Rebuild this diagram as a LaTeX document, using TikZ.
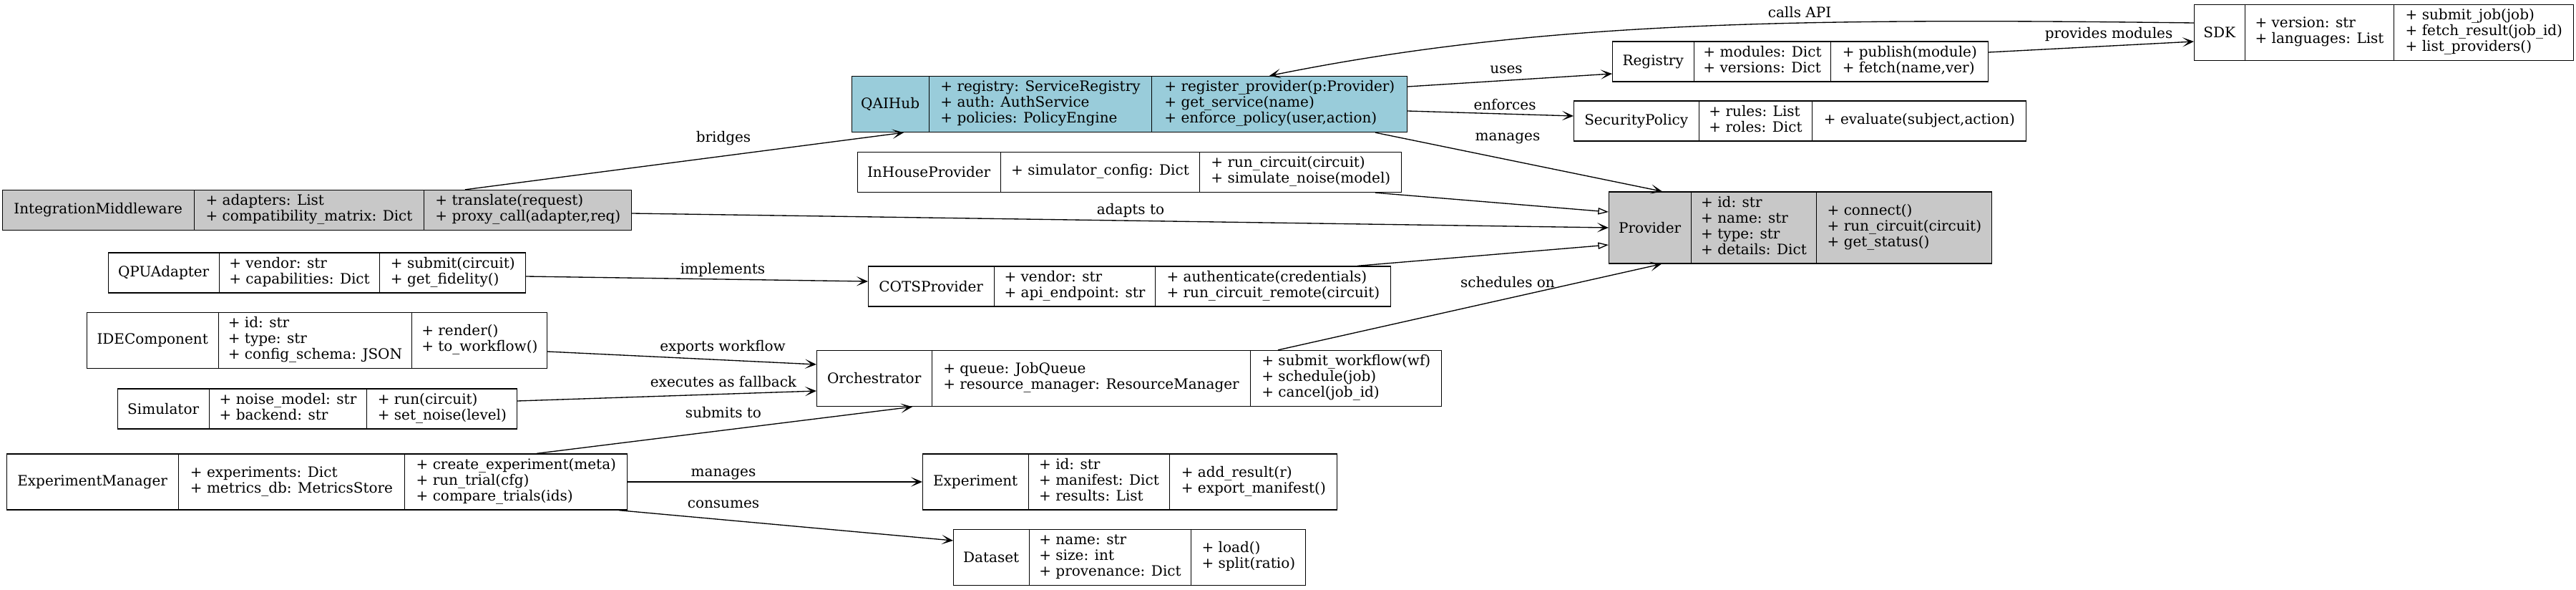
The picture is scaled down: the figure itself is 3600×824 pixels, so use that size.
\documentclass[tikz,border=0pt]{standalone}
\usepackage{fontspec}
\setmainfont{DejaVu Serif}
\usetikzlibrary{shapes.multipart,arrows.meta,calc}
\newlength{\pxu}
\setlength{\pxu}{0.75pt}
\newcommand{\fld}[2]{\makebox[#1\pxu]{#2}}
\newcommand{\rows}[1]{\begin{tabular}{@{}l@{}}#1\end{tabular}}
\definecolor{hubblue}{RGB}{153,204,218}
\definecolor{provgray}{RGB}{200,200,200}
\begin{document}
\begin{tikzpicture}[x=0.75pt, y=-0.75pt,
	every node/.style={font=\fontsize{15}{16.5}\selectfont},
	umlclass/.style={draw, line width=1pt, rectangle split, rectangle split horizontal, rectangle split parts=3, inner xsep=0pt, inner ysep=4.5pt},
	link/.style={line width=1pt, -{Stealth[length=12pt, width=10pt, inset=6.5pt]}},
	isa/.style={line width=1pt, -{Triangle[open, length=11pt, width=7pt, fill=white]}},
	lbl/.style={inner sep=1pt}]
		\useasboundingbox (0,0) rectangle (3600,824);
		\node[umlclass, fill=hubblue] (hub) at (1578.5,145.5) {\fld{107}{QAIHub}\nodepart{two}\fld{310}{\rows{+ registry: ServiceRegistry\\+ auth: AuthService\\+ policies: PolicyEngine}}\nodepart{three}\fld{356}{\rows{+ register\_provider(p:Provider)\\+ get\_service(name)\\+ enforce\_policy(user,action)}}};
		\node[umlclass] (registry) at (2516,86) {\fld{113}{Registry}\nodepart{two}\fld{190}{\rows{+ modules: Dict\\+ versions: Dict}}\nodepart{three}\fld{219}{\rows{+ publish(module)\\+ fetch(name,ver)}}};
		\node[umlclass] (sdk) at (3331.5,45.5) {\fld{70}{SDK}\nodepart{two}\fld{207}{\rows{+ version: str\\+ languages: List}}\nodepart{three}\fld{250}{\rows{+ submit\_job(job)\\+ fetch\_result(job\_id)\\+ list\_providers()}}};
		\node[umlclass] (secpolicy) at (2515.5,169) {\fld{174}{SecurityPolicy}\nodepart{two}\fld{157}{\rows{+ rules: List\\+ roles: Dict}}\nodepart{three}\fld{298}{\rows{+ evaluate(subject,action)}}};
		\node[umlclass] (inhouse) at (1578.5,240.5) {\fld{199}{InHouseProvider}\nodepart{two}\fld{277}{\rows{+ simulator\_config: Dict}}\nodepart{three}\fld{281}{\rows{+ run\_circuit(circuit)\\+ simulate\_noise(model)}}};
		\node[umlclass, fill=provgray] (provider) at (2516,318) {\fld{114}{Provider}\nodepart{two}\fld{174}{\rows{+ id: str\\+ name: str\\+ type: str\\+ details: Dict}}\nodepart{three}\fld{244}{\rows{+ connect()\\+ run\_circuit(circuit)\\+ get\_status()}}};
		\node[umlclass, fill=provgray] (middleware) at (443,293.5) {\fld{267}{IntegrationMiddleware}\nodepart{two}\fld{320}{\rows{+ adapters: List\\+ compatibility\_matrix: Dict}}\nodepart{three}\fld{289}{\rows{+ translate(request)\\+ proxy\_call(adapter,req)}}};
		\node[umlclass] (qpu) at (443,381) {\fld{154}{QPUAdapter}\nodepart{two}\fld{223}{\rows{+ vendor: str\\+ capabilities: Dict}}\nodepart{three}\fld{203}{\rows{+ submit(circuit)\\+ get\_fidelity()}}};
		\node[umlclass] (cots) at (1578.5,400) {\fld{175}{COTSProvider}\nodepart{two}\fld{224}{\rows{+ vendor: str\\+ api\_endpoint: str}}\nodepart{three}\fld{328}{\rows{+ authenticate(credentials)\\+ run\_circuit\_remote(circuit)}}};
		\node[umlclass] (ide) at (443,475.5) {\fld{183}{IDEComponent}\nodepart{two}\fld{269}{\rows{+ id: str\\+ type: str\\+ config\_schema: JSON}}\nodepart{three}\fld{188}{\rows{+ render()\\+ to\_workflow()}}};
		\node[umlclass] (orch) at (1578,528.5) {\fld{160}{Orchestrator}\nodepart{two}\fld{444}{\rows{+ queue: JobQueue\\+ resource\_manager: ResourceManager}}\nodepart{three}\fld{266}{\rows{+ submit\_workflow(wf)\\+ schedule(job)\\+ cancel(job\_id)}}};
		\node[umlclass] (simulator) at (443.5,571) {\fld{127}{Simulator}\nodepart{two}\fld{219}{\rows{+ noise\_model: str\\+ backend: str}}\nodepart{three}\fld{209}{\rows{+ run(circuit)\\+ set\_noise(level)}}};
		\node[umlclass] (expmgr) at (443,673) {\fld{239}{ExperimentManager}\nodepart{two}\fld{315}{\rows{+ experiments: Dict\\+ metrics\_db: MetricsStore}}\nodepart{three}\fld{310}{\rows{+ create\_experiment(meta)\\+ run\_trial(cfg)\\+ compare\_trials(ids)}}};
		\node[umlclass] (experiment) at (1579,673) {\fld{147}{Experiment}\nodepart{two}\fld{196}{\rows{+ id: str\\+ manifest: Dict\\+ results: List}}\nodepart{three}\fld{233}{\rows{+ add\_result(r)\\+ export\_manifest()}}};
		\node[umlclass] (dataset) at (1578.5,778.5) {\fld{105}{Dataset}\nodepart{two}\fld{225}{\rows{+ name: str\\+ size: int\\+ provenance: Dict}}\nodepart{three}\fld{159}{\rows{+ load()\\+ split(ratio)}}};
		\draw[link] ($(middleware.north)+(207,0)$) -- ($(hub.south)+(-315.5,0)$) node[lbl] (lbridges) at (1011,193) {bridges};
		\draw[link] ($(middleware.east)+(0,4.5)$) -- (provider.west) node[lbl] (ladapts) at (1580,294) {adapts to};
		\draw[link] ($(hub.east)+(0,-24.5)$) -- ($(registry.west)+(0,17)$) node[lbl] (luses) at (2105,97) {uses};
		\draw[link] ($(hub.east)+(0,9.5)$) -- ($(secpolicy.west)+(0,-7)$) node[lbl] (lenforces) at (2103,146) {enforces};
		\draw[link] ($(hub.south)+(343.5,0)$) -- ($(provider.north)+(-193,0)$) node[lbl] (lmanages) at (2107,193) {manages};
		\draw[link] ($(sdk.west)+(0,-13.5)$) .. controls (2500,25) and (2150,30) .. ($(hub.north)+(195.5,0)$) node[lbl] (lcalls) at (2515,17) {calls API};
		\draw[link] ($(registry.east)+(0,-13)$) -- ($(sdk.west)+(0,12.5)$) node[lbl] (lprovides) at (2947,48) {provides modules};
		\draw[isa] ($(inhouse.south)+(343.5,0)$) -- ($(provider.west)+(0,-22)$);
		\draw[isa] ($(cots.north)+(318.5,0)$) -- ($(provider.west)+(0,24)$);
		\draw[link] ($(qpu.east)+(0,5)$) -- ($(cots.west)+(0,-7)$) node[lbl] (limplements) at (1010,377) {implements};
		\draw[link] ($(ide.east)+(0,15.5)$) -- ($(orch.west)+(0,-19.5)$) node[lbl] (lexports) at (1010,485) {exports workflow};
		\draw[link] ($(simulator.east)+(0,-11)$) -- ($(orch.west)+(0,17.5)$) node[lbl] (lfallback) at (1011,533) {executes as fallback};
		\draw[link] ($(expmgr.north)+(307,0)$) -- ($(orch.south)+(-303,0)$) node[lbl] (lsubmits) at (1011,576) {submits to};
		\draw[link] ($(orch.north)+(208,0)$) -- ($(provider.south)+(-194,0)$) node[lbl] (lschedules) at (2107,394) {schedules on};
		\draw[link] (expmgr.east) -- (experiment.west) node[lbl] (lmanagesexp) at (1011,662) {manages};
		\draw[link] ($(expmgr.south)+(422,0)$) -- ($(dataset.west)+(0,-23.5)$) node[lbl] (lconsumes) at (1011,704) {consumes};
	\end{tikzpicture}
\end{document}
